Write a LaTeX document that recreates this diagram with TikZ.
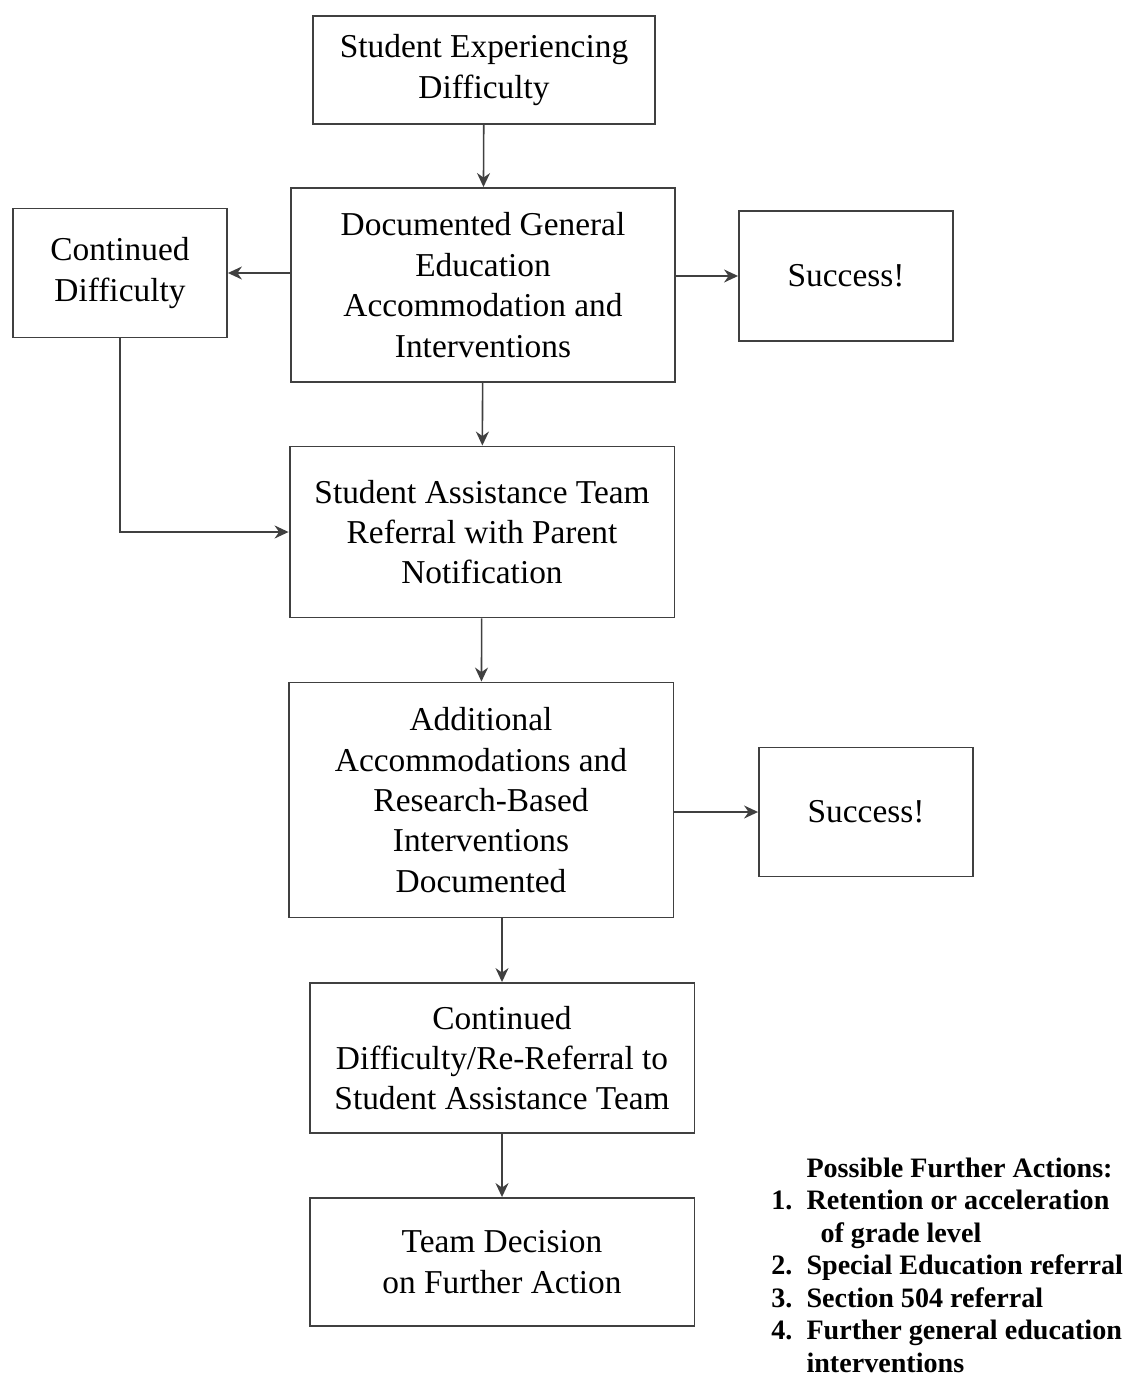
\documentclass[tikz,border=0pt]{standalone}
\usepackage{fontspec}
\setmainfont{Liberation Serif}
\usetikzlibrary{arrows.meta}
\begin{document}
\begin{tikzpicture}[x=0.02cm,y=-0.02cm,>={Stealth[length=2.8mm,width=2.6mm]},
  box/.style={draw=black!75,line width=1.1pt,align=center,inner sep=2pt,
    font=\fontsize{19}{23}\selectfont},
  link/.style={->,draw=black!75,line width=0.9pt}]
   \useasboundingbox (0,0) rectangle (1131,1378);

   % boxes
   \node [box,minimum width=6.84cm,minimum height=2.16cm] (sed) at (484,70)
     {Student Experiencing\\Difficulty};
   \node [box,minimum width=7.68cm,minimum height=3.88cm] (doc) at (483,285)
     {Documented General\\Education\\Accommodation and\\Interventions};
   \node [box,minimum width=4.28cm,minimum height=2.58cm] (cd) at (120,273)
     {Continued\\Difficulty};
   \node [box,minimum width=4.28cm,minimum height=2.6cm] (suc) at (846,276)
     {Success!};
   \node [box,minimum width=7.7cm,minimum height=3.42cm] (sat) at (482,532)
     {Student Assistance Team\\Referral with Parent\\Notification};
   \node [box,minimum width=7.7cm,minimum height=4.7cm] (add) at (481,800)
     {Additional\\Accommodations and\\Research-Based\\Interventions\\Documented};
   \node [box,minimum width=4.28cm,minimum height=2.58cm] (suc2) at (866,812)
     {Success!};
   \node [box,minimum width=7.7cm,minimum height=3.0cm] (rr) at (502,1058)
     {Continued\\Difficulty/Re-Referral to\\Student Assistance Team};
   \node [box,minimum width=7.7cm,minimum height=2.56cm] (td) at (502,1262)
     {Team Decision\\on Further Action};

   % further actions
   \node [anchor=north west,inner sep=0pt,align=left,
     font=\fontsize{16}{18.5}\selectfont\bfseries] (pfa) at (771,1154) {%
     \begin{tabular}{@{}r@{\ \ }l@{}}
       & Possible Further Actions:\\
       1. & Retention or acceleration\\
          & \hspace{0.28cm}of grade level\\
       2. & Special Education referral\\
       3. & Section 504 referral\\
       4. & Further general education\\
          & interventions
     \end{tabular}};

   % arrows
   \draw [link] (sed) -- (doc);
   \draw [link] (doc.west |- cd.east) -- (cd.east);
   \draw [link] (doc.east |- suc.west) -- (suc.west);
   \draw [link] (doc) -- (sat);
   \draw [link] (cd.south) |- (sat.west);
   \draw [link] (sat) -- (add);
   \draw [link] (add.east |- suc2.west) -- (suc2.west);
   \draw [link] (add.south -| rr.north) -- (rr.north);
   \draw [link] (rr) -- (td);

\end{tikzpicture}
\end{document}
